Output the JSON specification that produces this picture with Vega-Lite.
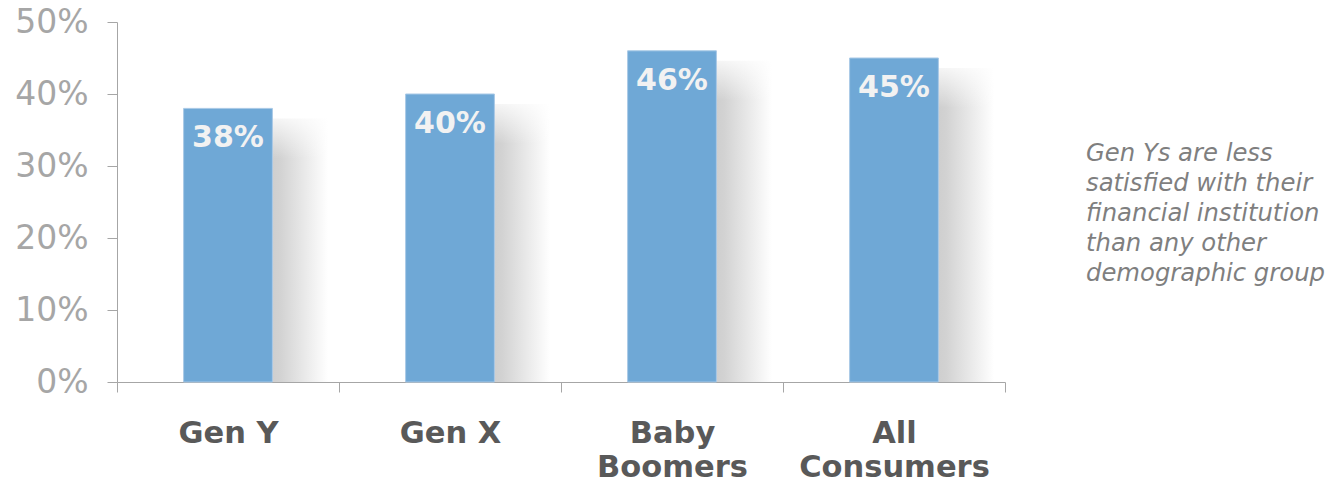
{
  "$schema": "https://vega.github.io/schema/vega-lite/v6.json",
  "padding": {"left": 14, "top": 6, "right": 0, "bottom": 0},
  "background": "white",
  "config": {"view": {"stroke": null}, "font": "DejaVu Sans", "concat": {"spacing": 80}},
  "hconcat": [
    {
      "width": 888,
      "height": 360,
      "data": {"values": [
        {"group": "Gen Y", "share": 0.38},
        {"group": "Gen X", "share": 0.40},
        {"group": "Baby Boomers", "share": 0.46},
        {"group": "All Consumers", "share": 0.45}
      ]},
      "encoding": {
        "x": {
          "field": "group", "type": "nominal", "sort": null,
          "scale": {"paddingInner": 0, "paddingOuter": 0},
          "axis": {
            "title": null, "labelAngle": 0, "tickBand": "extent", "labelLimit": 0,
            "domainColor": "#a6a6a6", "tickColor": "#a6a6a6", "tickSize": 10,
            "labelFont": "DejaVu Sans", "labelFontWeight": "bold", "labelFontSize": 30.5,
            "labelColor": "#595959", "labelPadding": 26, "labelLineHeight": 34,
            "labelExpr": "datum.label == 'Baby Boomers' ? ['Baby','Boomers'] : datum.label == 'All Consumers' ? ['All','Consumers'] : datum.label"
          }
        },
        "y": {
          "field": "share", "type": "quantitative", "scale": {"domain": [0, 0.5]},
          "axis": {
            "title": null, "format": ".0%", "values": [0, 0.1, 0.2, 0.3, 0.4, 0.5], "grid": false,
            "domainColor": "#a6a6a6", "tickColor": "#a6a6a6", "tickSize": 10,
            "labelFont": "DejaVu Sans", "labelFontSize": 33, "labelColor": "#a6a6a6", "labelPadding": 19
          }
        }
      },
      "layer": [
        {
          "mark": {
            "type": "bar", "width": 80, "xOffset": 60, "yOffset": 10, "clip": true,
            "fill": {"gradient": "linear", "x1": 0, "y1": 0, "x2": 1, "y2": 0,
              "stops": [
                {"offset": 0, "color": "#c4c4c4"},
                {"offset": 0.4, "color": "#d2d2d2"},
                {"offset": 1, "color": "#ffffff"}
              ]}
          }
        },
        {
          "mark": {
            "type": "bar", "width": 82, "xOffset": 60, "y2Offset": 50,
            "fill": {"gradient": "linear", "x1": 0, "y1": 0, "x2": 0, "y2": 1,
              "stops": [
                {"offset": 0, "color": "rgba(255,255,255,1)"},
                {"offset": 1, "color": "rgba(255,255,255,0)"}
              ]}
          },
          "encoding": {"y2": {"field": "share"}}
        },
        {"mark": {"type": "bar", "width": {"band": 0.4}, "color": "#6fa8d6", "stroke": "#a9c9e6", "strokeWidth": 1}},
        {
          "mark": {"type": "text", "baseline": "middle", "dy": 30, "fontSize": 30, "fontWeight": "bold", "color": "#f2f2f2"},
          "encoding": {"text": {"field": "share", "type": "quantitative", "format": ".0%"}}
        }
      ]
    },
    {
      "width": 249,
      "height": 360,
      "data": {"values": [{"note": "Gen Ys are less\nsatisfied with their\nfinancial institution\nthan any other\ndemographic group"}]},
      "mark": {"type": "text", "align": "left", "baseline": "middle", "lineBreak": "\n", "fontSize": 24.3, "fontStyle": "italic", "color": "#7f7f7f", "lineHeight": 30},
      "encoding": {"text": {"field": "note"}, "x": {"value": -2}, "y": {"value": 132}}
    }
  ]
}
